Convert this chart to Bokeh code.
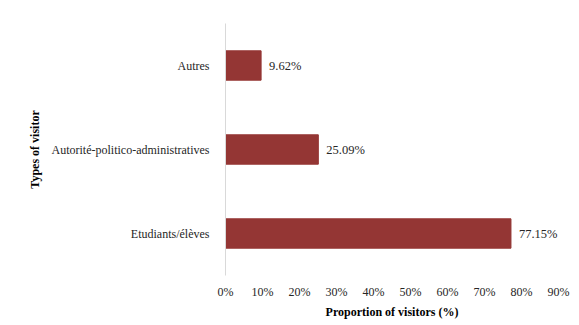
from bokeh.plotting import figure
from bokeh.models import ColumnDataSource, FactorRange, Range1d, FixedTicker, CustomJSTickFormatter
from bokeh.core.properties import value
from bokeh.embed import file_html
from bokeh.resources import INLINE

categories = ["Etudiants/élèves", "Autorité-politico-administratives", "Autres"]
proportions = [77.15, 25.09, 9.62]
value_labels = ["77.15%", "25.09%", "9.62%"]
x_ticks = [0, 10, 20, 30, 40, 50, 60, 70, 80, 90]

src = ColumnDataSource(dict(cat=categories, val=proportions, lab=value_labels))

p = figure(width=579, height=325, output_backend="svg", toolbar_location=None,
           y_range=FactorRange(factors=categories), x_range=Range1d(0, 90),
           min_border_left=225, min_border_right=21, min_border_top=23, min_border_bottom=50)
p.outline_line_color = None
p.xgrid.grid_line_color = None
p.ygrid.grid_line_color = None

p.hbar(y="cat", right="val", left=0, height=0.35, source=src,
       fill_color="#943634", line_color="#943634")
p.text(x="val", y="cat", text="lab", source=src, x_offset=8,
       text_font=value("Liberation Serif"), text_font_size="12.5px",
       text_baseline="middle", text_align="left", text_color="#262626")

serif = "Liberation Serif"
p.xaxis.ticker = FixedTicker(ticks=x_ticks)
p.xaxis.formatter = CustomJSTickFormatter(code="return tick.toFixed(0) + '%';")
p.xaxis.axis_line_color = None
p.xaxis.major_tick_line_color = None
p.xaxis.minor_tick_line_color = None
p.xaxis.major_label_standoff = 3
p.xaxis.axis_label = "Proportion of visitors (%)"
p.xaxis.axis_label_standoff = 3

p.yaxis.axis_line_color = "#d9d9d9"
p.yaxis.major_tick_line_color = None
p.yaxis.minor_tick_line_color = None
p.yaxis.major_label_standoff = 10
p.yaxis.axis_label = "Types of visitor"
p.yaxis.axis_label_standoff = 7

for ax in (p.xaxis, p.yaxis):
    ax.major_label_text_font = serif
    ax.major_label_text_font_size = "12px"
    ax.major_label_text_color = "#262626"
    ax.axis_label_text_font = serif
    ax.axis_label_text_font_size = "12px"
    ax.axis_label_text_font_style = "bold"
    ax.axis_label_text_color = "#000000"

open("out.html", "w").write(file_html(p, INLINE))
